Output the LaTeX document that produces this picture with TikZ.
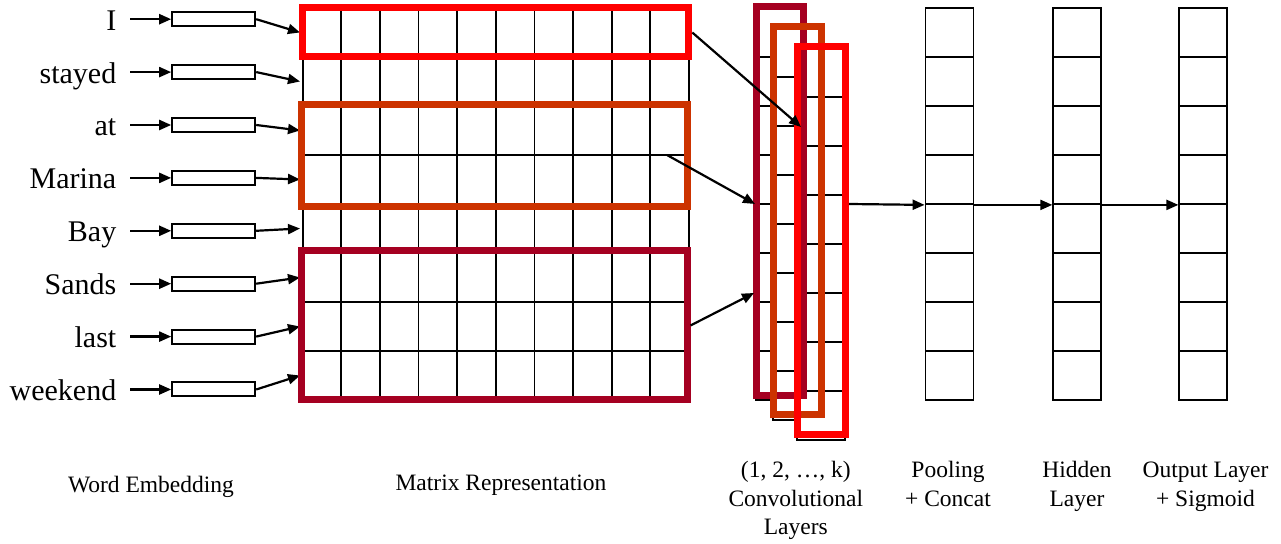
\documentclass[tikz,border=0pt]{standalone}
\usepackage{fontspec}
\setmainfont{Liberation Serif}
\usetikzlibrary{arrows.meta}

\definecolor{boxred}{RGB}{255,0,0}
\definecolor{boxorange}{RGB}{204,51,0}
\definecolor{boxdark}{RGB}{165,0,33}

\tikzset{
  gridline/.style = {line width = 0.9pt},
  hilite/.style = {line width = 3.5pt, inner sep = 0pt},
  arr/.style = {line width = 1.1pt, -{Triangle[length = 6pt, width = 5pt]}},
  emb/.style = {draw, line width = 1pt, minimum width = 41.5pt, minimum height = 7pt, inner sep = 0pt},
  cell/.style = {draw, line width = 0.9pt, minimum width = 24pt, minimum height = 24.5pt, inner sep = 0pt},
  word/.style = {anchor = base east, inner sep = 0pt, font = \fontsize{15}{18}\selectfont},
  caption/.style = {anchor = base, align = center, inner sep = 0pt, font = \fontsize{11.75}{14.25}\selectfont}
}

\begin{document}
\begin{tikzpicture}[x = 0.5pt, y = -0.5pt]
    \useasboundingbox (0, 0) rectangle (1281, 544);
    % words -> embeddings -> matrix rows
    \foreach \w [count = \i from 0] in {I, stayed, at, Marina, Bay, Sands, last, weekend}
    {
      \node[word] (w\i) at (116.7, 30.2 + 52.9*\i) {\w};
      \coordinate (s\i) at (130, 19.2 + 52.9*\i);
      \node[emb] (e\i) at (213.7, 19.2 + 52.9*\i) {};
      \coordinate (r\i) at (300, 32.5 + 49*\i);
      \draw[arr] (s\i) -- (e\i.west);
      \draw[arr] (e\i.east) -- (r\i);
    }
    % matrix
    \foreach \c in {0, ..., 9}
      \foreach \r in {0, ..., 7}
        \draw[gridline] (302.7 + 38.63*\c, 8 + 49*\r) rectangle ++(38.63, 49);
    \node[hilite, draw = boxred, minimum width = 193pt, minimum height = 24.5pt] (mred) at (495.8, 32.5) {};
    \node[hilite, draw = boxorange, minimum width = 193pt, minimum height = 51pt] (morange) at (494, 156) {};
    \node[hilite, draw = boxdark, minimum width = 193pt, minimum height = 74.5pt] (mdark) at (494, 325.5) {};
    % convolutional layers
    \foreach \x/\y [count = \k] in {756/8, 773/28, 797/48}
      \foreach \r in {1, ..., 8}
        \node[cell, fill = white] (c\k-\r) at (\x + 24, \y + 49*\r - 24.5) {};
    \draw[hilite, boxdark] (756, 7) rectangle (803.7, 395.5);
    \draw[hilite, boxorange] (773, 27) rectangle (821, 415);
    \draw[hilite, boxred] (797, 47) rectangle (845.5, 435);
    % pooling, hidden, output
    \foreach \name/\x in {pool/949.5, hid/1077.2, out/1203.3}
      \foreach \r in {1, ..., 8}
        \node[cell] (\name\r) at (\x, 8 + 49*\r - 24.5) {};
    % connections
    \coordinate (sorange) at (667, 155);
    \coordinate (tred) at (801, 127);
    \coordinate (torange) at (755, 204);
    \coordinate (tdark) at (754, 293);
    \coordinate (convout) at (849, 204);
    \draw[arr] (mred.east) -- (tred);
    \draw[arr] (sorange) -- (torange);
    \draw[arr] (mdark.east) -- (tdark);
    \draw[arr] (convout) -- (pool4.south west);
    \draw[arr] (pool4.south east) -- (hid4.south west);
    \draw[arr] (hid4.south east) -- (out4.south west);
    % labels (base = last line)
    \node[caption] (lemb) at (151, 493) {Word Embedding};
    \node[caption] (lmat) at (501, 491) {Matrix Representation};
    \node[caption] (lconv) at (795.8, 535) {(1, 2, …, k)\\Convolutional\\Layers};
    \node[caption] (lpool) at (948, 506.5) {Pooling\\+ Concat};
    \node[caption] (lhid) at (1077, 506.5) {Hidden\\Layer};
    \node[caption] (lout) at (1205.5, 506.5) {Output Layer\\+ Sigmoid};
\end{tikzpicture}
\end{document}
